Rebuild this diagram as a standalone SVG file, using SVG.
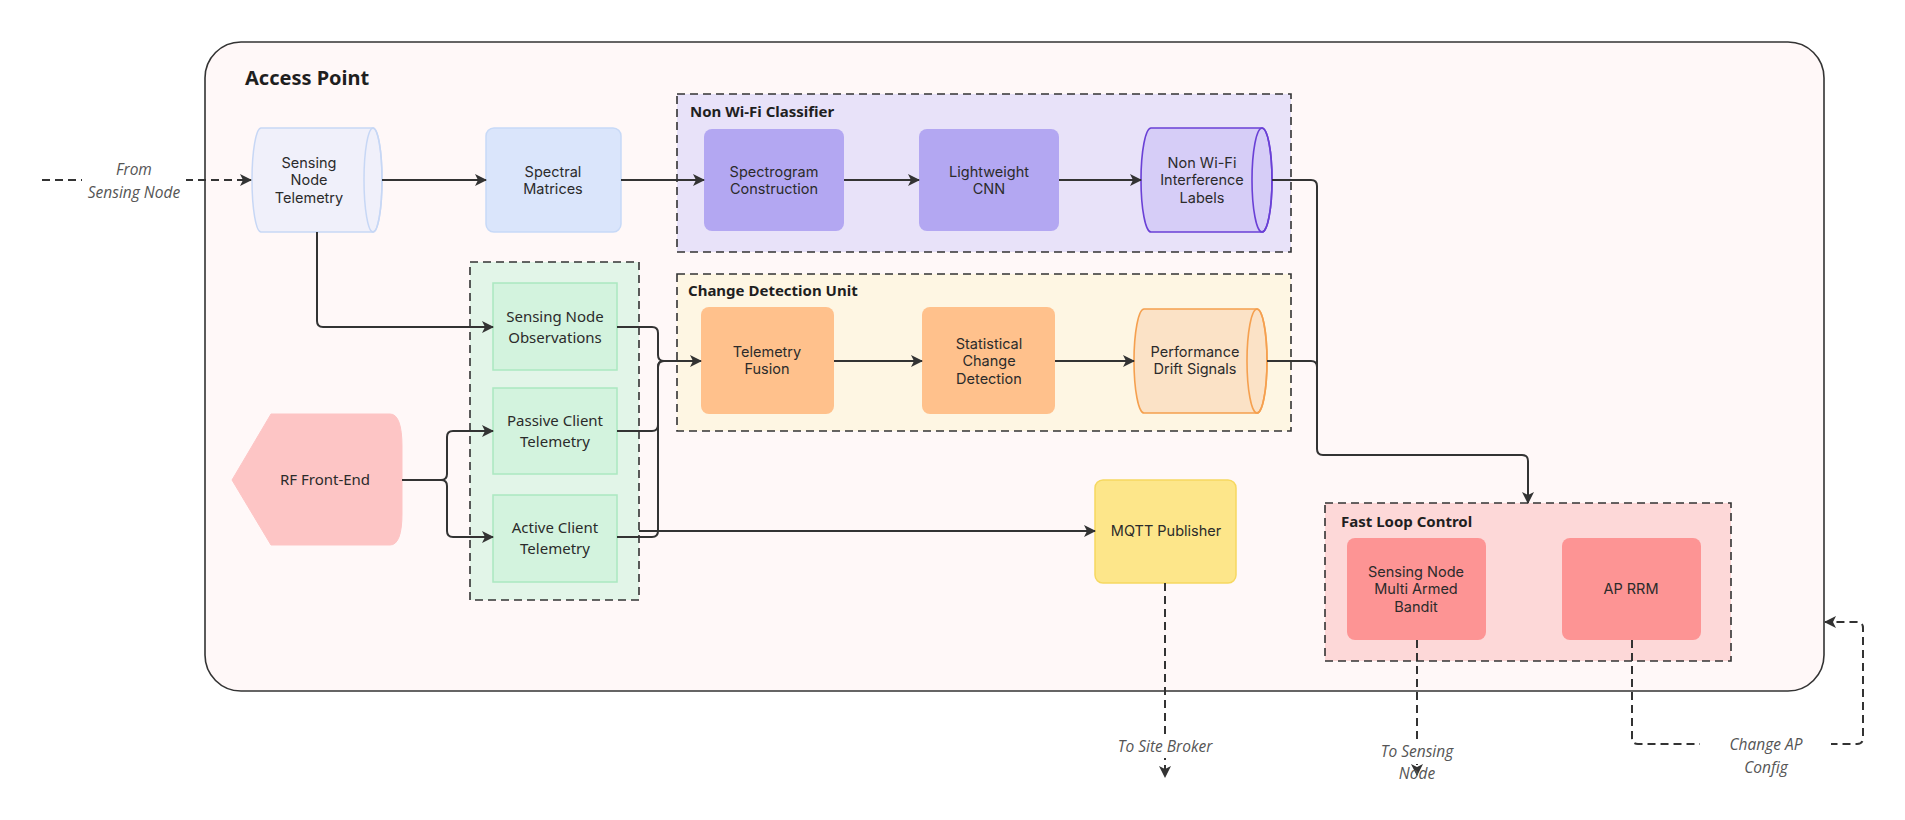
<svg xmlns="http://www.w3.org/2000/svg" width="1905" height="820" viewBox="0 0 1905 820">
<style>
.t{font-family:Inter,"Liberation Sans",sans-serif;font-size:14.5px;fill:#2b2b2b;text-anchor:middle}
.n{font-family:"Noto Sans","Open Sans",sans-serif;font-size:15px;fill:#2b2b2b;text-anchor:middle}
.g{font-family:"Noto Sans","Open Sans",sans-serif;font-size:15px;font-weight:bold;fill:#1f1f1f}
.lbl{font-family:"Open Sans","Noto Sans",sans-serif;font-size:15.5px;font-style:italic;fill:#555;text-anchor:middle}
.c{fill:none;stroke:#333;stroke-width:2}
.d{fill:none;stroke:#333;stroke-width:2;stroke-dasharray:8 5}
.grp{stroke:#333;stroke-width:1.6;stroke-dasharray:8 5}
</style>
<defs>
<marker id="ah" viewBox="0 0 12 12" refX="11" refY="6" markerWidth="12" markerHeight="12" markerUnits="userSpaceOnUse" orient="auto">
<path d="M0,0 L12,6 L0,12 L3,6 z" fill="#333"/>
</marker>
</defs>
<rect x="0" y="0" width="1905" height="820" fill="#ffffff"/>

<g id="access-point">
<rect x="205" y="42" width="1619" height="649" rx="36" fill="#fff8f8" stroke="#333" stroke-width="1.6"/>
<text x="245" y="85" font-family="'Noto Sans','Open Sans',sans-serif" font-size="20" font-weight="bold" fill="#1f1f1f">Access Point</text>
</g>

<g id="non-wifi-classifier">
<rect x="677" y="94" width="614" height="158" fill="#e8e2f9" class="grp"/>
<text x="690" y="117" class="g">Non Wi-Fi Classifier</text>
</g>
<g id="change-detection-unit">
<rect x="677" y="274" width="614" height="157" fill="#fef6e3" class="grp"/>
<text x="688" y="296" class="g">Change Detection Unit</text>
</g>
<g id="client-group">
<rect x="470" y="262" width="169" height="338" fill="#e2f5e8" class="grp"/>
</g>
<g id="fast-loop-control">
<rect x="1325" y="503" width="406" height="158" fill="#fdd8d8" class="grp"/>
<text x="1341" y="527" class="g">Fast Loop Control</text>
</g>

<g id="sensing-node-telemetry">
<path d="M261,128 L373,128 A9,52 0 0 1 373,232 L261,232 A9,52 0 0 1 261,128 Z" fill="#f0f0fa" stroke="#c7d7f5" stroke-width="1.5"/>
<ellipse cx="373" cy="180" rx="9" ry="52" fill="none" stroke="#c7d7f5" stroke-width="1.5"/>
<text class="t" x="309" y="168">Sensing</text>
<text class="t" x="309" y="185">Node</text>
<text class="t" x="309" y="203">Telemetry</text>
</g>
<g id="spectral-matrices">
<rect x="486" y="128" width="135" height="104" rx="8" fill="#dae5fb" stroke="#c7d9f7" stroke-width="1.5"/>
<text class="t" x="553" y="177">Spectral</text>
<text class="t" x="553" y="194">Matrices</text>
</g>
<g id="spectrogram-construction">
<rect x="704" y="129" width="140" height="102" rx="8" fill="#b3a7f2"/>
<text class="t" x="774" y="177">Spectrogram</text>
<text class="t" x="774" y="194">Construction</text>
</g>
<g id="lightweight-cnn">
<rect x="919" y="129" width="140" height="102" rx="8" fill="#b3a7f2"/>
<text class="t" x="989" y="177">Lightweight</text>
<text class="t" x="989" y="194">CNN</text>
</g>
<g id="non-wifi-interference-labels">
<path d="M1151,128 L1262,128 A10,52 0 0 1 1262,232 L1151,232 A10,52 0 0 1 1151,128 Z" fill="#d6cdf7" stroke="#6a40d6" stroke-width="1.6"/>
<ellipse cx="1262" cy="180" rx="10" ry="52" fill="none" stroke="#6a40d6" stroke-width="1.6"/>
<text class="t" x="1202" y="168">Non Wi-Fi</text>
<text class="t" x="1202" y="185">Interference</text>
<text class="t" x="1202" y="203">Labels</text>
</g>
<g id="telemetry-fusion">
<rect x="701" y="307" width="133" height="107" rx="8" fill="#ffc18c"/>
<text class="t" x="767" y="357">Telemetry</text>
<text class="t" x="767" y="374">Fusion</text>
</g>
<g id="statistical-change-detection">
<rect x="922" y="307" width="133" height="107" rx="8" fill="#ffc18c"/>
<text class="t" x="989" y="349">Statistical</text>
<text class="t" x="989" y="366">Change</text>
<text class="t" x="989" y="384">Detection</text>
</g>
<g id="performance-drift-signals">
<path d="M1144,309 L1257,309 A10,52 0 0 1 1257,413 L1144,413 A10,52 0 0 1 1144,309 Z" fill="#fbe2c6" stroke="#f5a04f" stroke-width="1.6"/>
<ellipse cx="1257" cy="361" rx="10" ry="52" fill="none" stroke="#f5a04f" stroke-width="1.6"/>
<text class="t" x="1195" y="357">Performance</text>
<text class="t" x="1195" y="374">Drift Signals</text>
</g>
<g id="sensing-node-observations">
<rect x="493" y="283" width="124" height="87" fill="#d3f3de" stroke="#abe8c0" stroke-width="1.5"/>
<text class="n" x="555" y="322">Sensing Node</text>
<text class="n" x="555" y="343">Observations</text>
</g>
<g id="passive-client-telemetry">
<rect x="493" y="388" width="124" height="86" fill="#d3f3de" stroke="#abe8c0" stroke-width="1.5"/>
<text class="n" x="555" y="426">Passive Client</text>
<text class="n" x="555" y="447">Telemetry</text>
</g>
<g id="active-client-telemetry">
<rect x="493" y="495" width="124" height="87" fill="#d3f3de" stroke="#abe8c0" stroke-width="1.5"/>
<text class="n" x="555" y="533">Active Client</text>
<text class="n" x="555" y="554">Telemetry</text>
</g>
<g id="rf-front-end">
<path d="M232,480 L271,414 L390,414 Q402,414 402,447 L402,513 Q402,545 390,545 L271,545 Z" fill="#fdc5c5" stroke="#fdc5c5" stroke-width="1" stroke-linejoin="round"/>
<text class="n" x="325" y="485">RF Front-End</text>
</g>
<g id="mqtt-publisher">
<rect x="1095" y="480" width="141" height="103" rx="8" fill="#fde68a" stroke="#f6d860" stroke-width="1.5"/>
<text class="t" x="1166" y="536">MQTT Publisher</text>
</g>
<g id="sensing-node-mab">
<rect x="1347" y="538" width="139" height="102" rx="8" fill="#fd9494"/>
<text class="t" x="1416" y="577">Sensing Node</text>
<text class="t" x="1416" y="594">Multi Armed</text>
<text class="t" x="1416" y="612">Bandit</text>
</g>
<g id="ap-rrm">
<rect x="1562" y="538" width="139" height="102" rx="8" fill="#fd9494"/>
<text class="t" x="1631" y="594">AP RRM</text>
</g>

<g id="connectors">
<path class="d" d="M42,180 L251,180" marker-end="url(#ah)"/>
<path class="c" d="M382,180 L486,180" marker-end="url(#ah)"/>
<path class="c" d="M621,180 L704,180" marker-end="url(#ah)"/>
<path class="c" d="M844,180 L919,180" marker-end="url(#ah)"/>
<path class="c" d="M1059,180 L1141,180" marker-end="url(#ah)"/>
<path class="c" d="M317,232 L317,321 Q317,327 323,327 L493,327" marker-end="url(#ah)"/>
<path class="c" d="M617,327 L652,327 Q658,327 658,333 L658,355 Q658,361 664,361 L701,361" marker-end="url(#ah)"/>
<path class="c" d="M617,431 L652,431 Q658,431 658,425 L658,367 Q658,361 664,361"/>
<path class="c" d="M617,537 L652,537 Q658,537 658,531 L658,367 Q658,361 664,361"/>
<path class="c" d="M402,480 L441,480 Q447,480 447,474 L447,437 Q447,431 453,431 L493,431" marker-end="url(#ah)"/>
<path class="c" d="M441,480 Q447,480 447,486 L447,531 Q447,537 453,537 L493,537" marker-end="url(#ah)"/>
<path class="c" d="M639,531 L1095,531" marker-end="url(#ah)"/>
<path class="c" d="M834,361 L922,361" marker-end="url(#ah)"/>
<path class="c" d="M1055,361 L1134,361" marker-end="url(#ah)"/>
<path class="c" d="M1272,180 L1311,180 Q1317,180 1317,186 L1317,449 Q1317,455 1323,455 L1522,455 Q1528,455 1528,461 L1528,503" marker-end="url(#ah)"/>
<path class="c" d="M1267,361 L1311,361 Q1317,361 1317,367 L1317,449"/>
<path class="d" d="M1165,583 L1165,777" marker-end="url(#ah)"/>
<path class="d" d="M1417,640 L1417,775" marker-end="url(#ah)"/>
<path class="d" d="M1632,640 L1632,738 Q1632,744 1638,744 L1857,744 Q1863,744 1863,738 L1863,628 Q1863,622 1857,622 L1825,622" marker-end="url(#ah)"/>
<rect x="82" y="157" width="104" height="46" fill="#ffffff"/>
<text class="lbl" x="134" y="175">From</text>
<text class="lbl" x="134" y="198">Sensing Node</text>
<rect x="1112" y="735" width="106" height="23" fill="#ffffff"/>
<text class="lbl" x="1165" y="752">To Site Broker</text>
<rect x="1374" y="741" width="86" height="23" fill="#ffffff"/>
<text class="lbl" x="1417" y="757">To Sensing</text>
<text class="lbl" x="1417" y="779">Node</text>
<rect x="1700" y="733" width="131" height="46" fill="#ffffff"/>
<text class="lbl" x="1766" y="750">Change AP</text>
<text class="lbl" x="1766" y="773">Config</text>
</g>
</svg>
